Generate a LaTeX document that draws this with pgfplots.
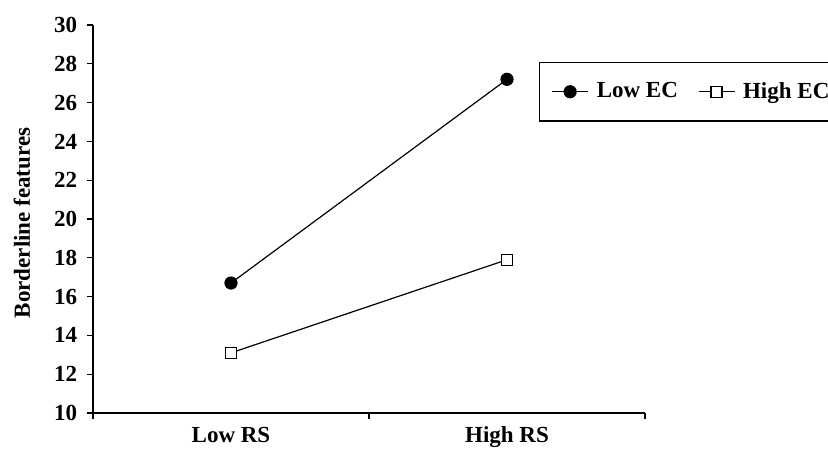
\documentclass[border=0pt]{standalone}
\usepackage{pgfplots}
\pgfplotsset{compat=1.18}
\usepackage{fontspec}
\setmainfont{Liberation Serif}
\newcommand{\ff}{\fontsize{23}{27}\selectfont\bfseries}
\begin{document}
\ff
\begin{tikzpicture}
\begin{axis}[
  at={(0pt,0pt)}, anchor=south west,
  scale only axis, width=552pt, height=388pt,
  xmin=0, xmax=2, ymin=10, ymax=30,
  axis x line*=bottom, axis y line*=left,
  axis line style={line width=1.1pt},
  every tick/.style={black, line width=1.1pt},
  tick align=outside, major tick length=6pt,
  xtick={0,1,2}, xticklabels={},
  extra x ticks={0.5,1.5}, extra x tick labels={Low RS,High RS},
  extra x tick style={major tick length=0pt, tick label style={yshift=-6pt}},
  ytick={10,12,...,30},
  yticklabel style={xshift=-2pt},
  /pgf/number format/assume math mode=true,
  ticklabel style={font=\ff},
  ylabel={Borderline features},
  ylabel style={font=\ff, at={(axis description cs:-0.1286,0.49)}, anchor=center},
  legend columns=2,
  legend style={at={(446pt,351pt)}, anchor=north west, draw=black, line width=1.1pt,
    font=\ff, inner xsep=12pt, inner ysep=17.5pt,
    /tikz/every odd column/.append style={column sep=6pt},
    /tikz/every even column/.append style={column sep=18pt}},
  legend image code/.code={\draw[#1, mark repeat=2, mark phase=2] plot coordinates {(0pt,0pt) (18pt,0pt) (36pt,0pt)};},
  legend cell align=left,
]
\addplot[black, line width=1.2pt, mark=*, mark size=6pt, mark options={fill=black}] coordinates {(0.5,16.7) (1.5,27.2)};
\addlegendentry{Low EC}
\addplot[black, line width=1.2pt, mark=square*, mark size=5.5pt, mark options={fill=white, line width=1.2pt}] coordinates {(0.5,13.1) (1.5,17.9)};
\addlegendentry{High EC}
\end{axis}
\pgfresetboundingbox
\path (-93pt,-39pt) rectangle (735pt,413pt);
\end{tikzpicture}
\end{document}
